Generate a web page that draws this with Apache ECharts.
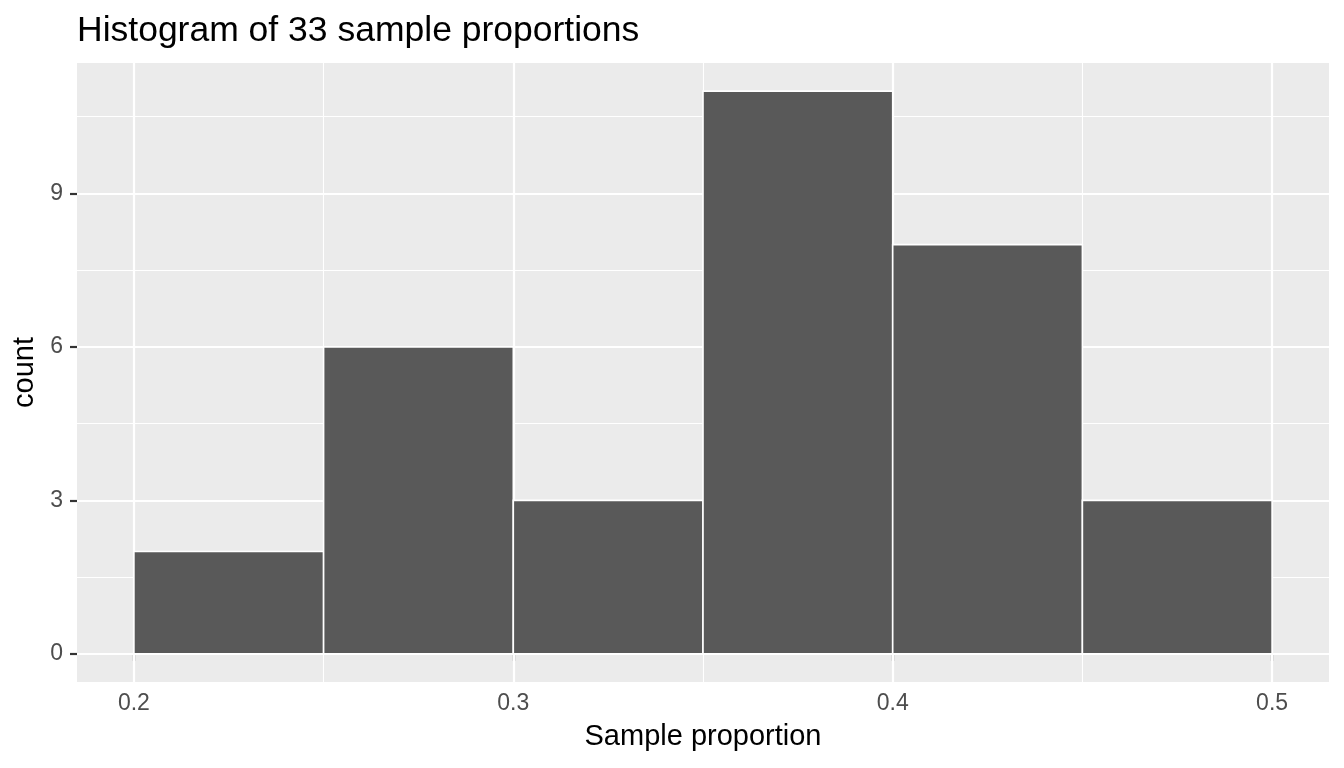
<!DOCTYPE html>
<html>
<head>
<meta charset="utf-8">
<script src="https://cdn.jsdelivr.net/npm/echarts@6/dist/echarts.min.js"></script>
<style>
html,body{margin:0;padding:0;background:#fff;}
#chart{width:1344px;height:768px;}
</style>
</head>
<body>
<div id="chart"></div>
<script>
// Data
const binStarts = [0.20, 0.25, 0.30, 0.35, 0.40, 0.45];
const binEnds   = [0.25, 0.30, 0.35, 0.40, 0.45, 0.50];
const counts    = [2, 6, 3, 11, 8, 3];
const xTicks = [0.2, 0.3, 0.4, 0.5];
const xMinor = [0.25, 0.35, 0.45];
const yTicks = [0, 3, 6, 9];
const yMinor = [1.5, 4.5, 7.5, 10.5];
const titleText = 'Histogram of 33 sample proportions';
const xTitle = 'Sample proportion';
const yTitle = 'count';

const FONT = '"Liberation Sans", Arial, Helvetica, sans-serif';
const chart = echarts.init(document.getElementById('chart'), null, {renderer: 'canvas'});

const gridLines = [];
xTicks.forEach(v => gridLines.push({xAxis: v, lineStyle: {width: 2.2}}));
xMinor.forEach(v => gridLines.push({xAxis: v, lineStyle: {width: 1.1}}));
yTicks.forEach(v => gridLines.push({yAxis: v, lineStyle: {width: 2.2}}));
yMinor.forEach(v => gridLines.push({yAxis: v, lineStyle: {width: 1.1}}));

const barData = binStarts.map((s, i) => [s, binEnds[i], counts[i]]);

chart.setOption({
  animation: false,
  backgroundColor: '#ffffff',
  title: {
    text: titleText,
    left: 77,
    top: 13,
    padding: 0,
    textStyle: {fontFamily: FONT, fontSize: 35.5, fontWeight: 'normal', color: '#000000'}
  },
  grid: {
    left: 77, right: 15, top: 63, bottom: 86,
    show: true, backgroundColor: '#EBEBEB', borderWidth: 0
  },
  xAxis: {
    type: 'value',
    min: 0.185, max: 0.515,
    name: xTitle,
    nameLocation: 'middle',
    nameGap: 40,
    nameTextStyle: {fontFamily: FONT, fontSize: 29, color: '#000000'},
    axisLine: {show: false},
    axisTick: {show: true, length: 7, lineStyle: {color: '#333333', width: 2.2}, customValues: xTicks},
    axisLabel: {
      show: true, margin: 10, customValues: xTicks,
      fontFamily: FONT, fontSize: 23, color: '#4D4D4D',
      formatter: v => String(Math.round(v * 10) / 10)
    },
    splitLine: {show: false}
  },
  yAxis: {
    type: 'value',
    min: -0.55, max: 11.55,
    name: yTitle,
    nameLocation: 'middle',
    nameGap: 35,
    nameTextStyle: {fontFamily: FONT, fontSize: 29, color: '#000000'},
    axisLine: {show: false},
    axisTick: {show: true, length: 7, lineStyle: {color: '#333333', width: 2.2}, customValues: yTicks},
    axisLabel: {
      show: true, margin: 14, customValues: yTicks,
      fontFamily: FONT, fontSize: 23, color: '#4D4D4D'
    },
    splitLine: {show: false}
  },
  series: [
    {
      type: 'line',
      data: [],
      z: 1,
      silent: true,
      markLine: {
        z: 1,
        silent: true,
        symbol: ['none', 'none'],
        label: {show: false},
        lineStyle: {color: '#FFFFFF', type: 'solid'},
        emphasis: {disabled: true},
        animation: false,
        data: gridLines
      }
    },
    {
      type: 'custom',
      z: 10,
      data: barData,
      renderItem: function (params, api) {
        const p0 = api.coord([api.value(0), api.value(2)]);
        const p1 = api.coord([api.value(1), 0]);
        return {
          type: 'rect',
          shape: {x: p0[0], y: p0[1], width: p1[0] - p0[0], height: p1[1] - p0[1]},
          style: {fill: '#595959', stroke: '#FFFFFF', lineWidth: 1.6}
        };
      }
    }
  ]
});
</script>
</body>
</html>
